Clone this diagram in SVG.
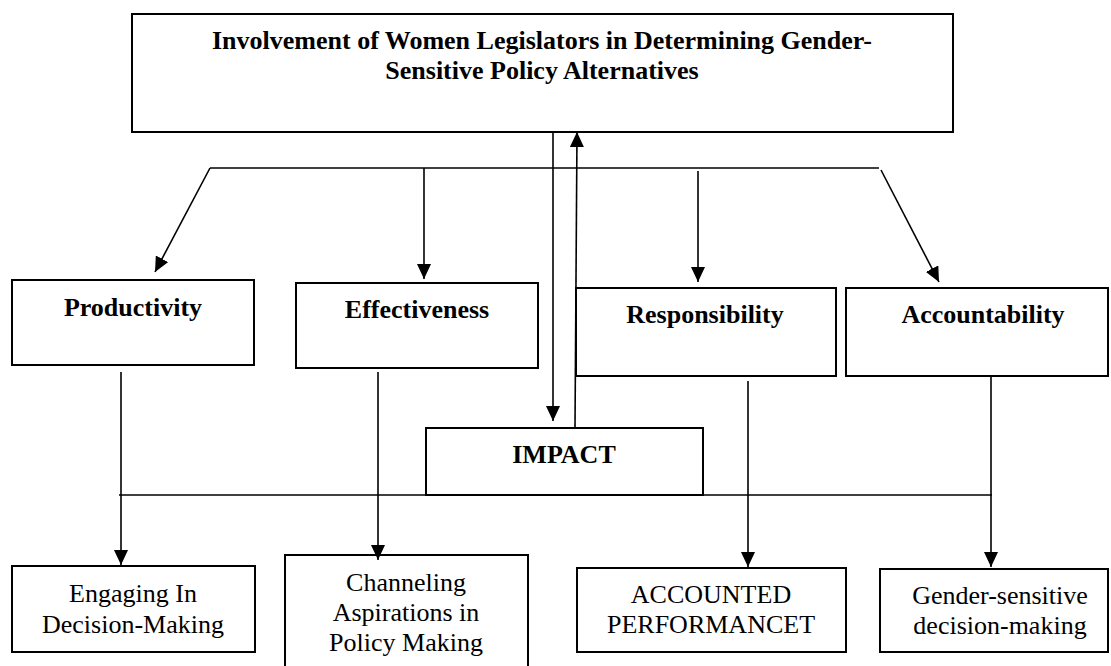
<svg xmlns="http://www.w3.org/2000/svg" width="1111" height="666" viewBox="0 0 1111 666">
<style>
  .box { fill: #ffffff; stroke: #000000; stroke-width: 2; }
  .ln { fill: none; stroke: #000000; stroke-width: 1.6; }
  .arr { fill: none; stroke: #000000; stroke-width: 1.6; marker-end: url(#ah); }
  .tb { font-family: "Liberation Serif", "Times New Roman", serif; font-weight: bold; font-size: 26px; fill: #000000; text-anchor: middle; }
  .tr { font-family: "Liberation Serif", "Times New Roman", serif; font-size: 26px; fill: #000000; text-anchor: middle; }
</style>
<defs>
  <marker id="ah" markerUnits="userSpaceOnUse" markerWidth="16" markerHeight="14" refX="15" refY="7" orient="auto">
    <path d="M0,0 L15,7 L0,14 z" fill="#000000"/>
  </marker>
</defs>
<rect width="1111" height="666" fill="#ffffff"/>

<g id="node-top">
  <rect class="box" x="132" y="14" width="821" height="118"/>
  <text class="tb" x="542" y="49">Involvement of Women Legislators in Determining Gender-</text>
  <text class="tb" x="542" y="79">Sensitive Policy Alternatives</text>
</g>

<g id="node-productivity">
  <rect class="box" x="12" y="280" width="242" height="85"/>
  <text class="tb" x="133" y="316">Productivity</text>
</g>

<g id="node-effectiveness">
  <rect class="box" x="296" y="283" width="242" height="85"/>
  <text class="tb" x="417" y="318">Effectiveness</text>
</g>

<g id="node-responsibility">
  <rect class="box" x="576" y="288" width="260" height="88"/>
  <text class="tb" x="705" y="323">Responsibility</text>
</g>

<g id="node-accountability">
  <rect class="box" x="846" y="288" width="262" height="88"/>
  <text class="tb" x="983" y="323">Accountability</text>
</g>

<g id="node-impact">
  <rect class="box" x="426" y="428" width="277" height="67"/>
  <text class="tb" x="564" y="463">IMPACT</text>
</g>

<g id="node-engaging">
  <rect class="box" x="12" y="566" width="243" height="86"/>
  <text class="tr" x="133" y="602">Engaging In</text>
  <text class="tr" x="133" y="633">Decision-Making</text>
</g>

<g id="node-channeling">
  <rect class="box" x="285" y="555" width="243" height="115"/>
  <text class="tr" x="406" y="591">Channeling</text>
  <text class="tr" x="406" y="621">Aspirations in</text>
  <text class="tr" x="406" y="651">Policy Making</text>
</g>

<g id="node-accounted">
  <rect class="box" x="577" y="568" width="269" height="84"/>
  <text class="tr" x="711" y="603">ACCOUNTED</text>
  <text class="tr" x="711" y="633">PERFORMANCET</text>
</g>

<g id="node-gender">
  <rect class="box" x="880" y="569" width="228" height="83"/>
  <text class="tr" x="1000" y="604">Gender-sensitive</text>
  <text class="tr" x="1000" y="634">decision-making</text>
</g>

<g id="connectors">
  <!-- top distribution bar -->
  <line class="ln" x1="210" y1="168" x2="879" y2="168"/>
  <line class="arr" x1="210" y1="168" x2="155" y2="272"/>
  <line class="arr" x1="424" y1="168" x2="424" y2="279"/>
  <line class="arr" x1="698" y1="171" x2="698" y2="282"/>
  <line class="arr" x1="881" y1="170" x2="939" y2="282"/>
  <!-- top box <-> IMPACT -->
  <line class="arr" x1="553" y1="132" x2="553" y2="421"/>
  <line class="arr" x1="575" y1="428" x2="577" y2="132"/>
  <!-- impact bar -->
  <line class="ln" x1="119" y1="495" x2="992" y2="495"/>
  <!-- down to outcomes -->
  <line class="arr" x1="121" y1="372" x2="121" y2="565"/>
  <line class="arr" x1="378" y1="372" x2="378" y2="560"/>
  <line class="arr" x1="748" y1="381" x2="748" y2="567"/>
  <line class="arr" x1="991" y1="376" x2="991" y2="567"/>
</g>
</svg>
